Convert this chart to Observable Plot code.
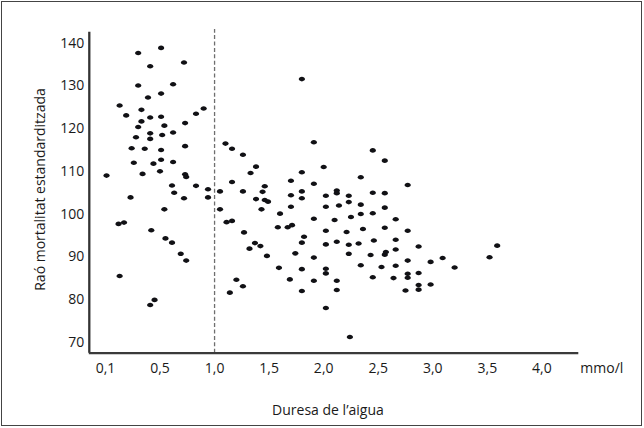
<!DOCTYPE html>
<html>
<head>
<meta charset="utf-8">
<script src="https://cdn.jsdelivr.net/npm/d3@7"></script>
<script src="https://cdn.jsdelivr.net/npm/@observablehq/plot@0.6"></script>
<style>
html, body { margin: 0; padding: 0; background: #fff; }
#wrap { position: relative; width: 644px; height: 428px; overflow: hidden; background: #fff; }
#wrap svg { position: absolute; left: 0; top: 0; }
#border { position: absolute; left: 1px; top: 1px; width: 639px; height: 423px; border: 1.5px solid #444; pointer-events: none; }
</style>
</head>
<body>
<div id="wrap"><div id="border"></div></div>
<script>
// Water hardness (mmol/l) per town
const hardness = [
  0.51,0.30,0.72,0.41,0.30,0.62,0.51,0.39,0.13,0.33,0.90,0.83,0.19,0.41,0.51,0.33,0.54,0.73,0.30,0.41,
  0.62,0.28,0.41,0.52,0.24,0.36,0.51,0.73,0.26,0.44,0.51,0.62,0.01,0.34,0.50,0.73,0.74,0.61,0.63,0.83,
  0.94,0.94,0.23,0.72,0.54,0.12,0.17,0.42,0.55,0.61,0.69,0.74,0.13,0.45,0.41,
  1.05,1.05,1.11,1.14,1.80,1.10,1.16,1.26,1.91,1.38,1.33,2.00,1.80,1.16,1.91,1.70,1.26,1.46,1.44,1.38,
  1.46,1.49,1.70,1.80,1.80,2.02,2.12,2.12,2.23,1.43,1.70,2.02,2.14,2.23,1.60,1.16,1.27,1.58,1.67,1.71,
  1.91,2.10,2.25,2.02,2.21,1.82,1.80,1.37,1.32,1.42,2.02,2.12,2.23,1.48,1.74,1.91,2.23,1.59,1.80,2.02,
  2.02,1.20,1.26,1.69,1.91,2.12,1.80,2.12,2.02,2.24,2.45,2.56,2.34,2.77,2.45,2.56,2.34,2.56,2.34,2.45,
  2.66,2.36,2.56,2.77,2.32,2.46,2.66,2.87,2.43,2.56,2.57,2.66,2.77,2.98,3.09,2.34,2.53,2.66,3.20,2.45,
  2.64,2.77,2.77,2.87,2.75,2.87,2.87,2.98,3.52,3.59
];
// Standardised mortality ratio per town
const smr = [
  138.9,137.7,135.5,134.6,130.1,130.4,128.2,127.3,125.4,124.4,124.7,123.5,123.1,122.6,122.8,121.7,120.7,121.3,120.4,118.9,
  119.1,118.0,117.6,118.5,115.4,115.3,115.0,115.9,112.0,111.8,112.7,112.2,109.0,109.4,110.0,109.3,108.7,106.7,105.0,106.6,
  105.8,103.9,103.9,103.7,101.1,97.7,98.0,96.2,94.3,93.3,90.7,89.1,85.5,79.9,78.7,
  105.3,101.1,98.1,81.6,131.6,116.5,115.3,113.9,116.8,111.1,109.6,111.0,109.8,107.5,107.1,107.8,105.3,106.5,105.2,103.5,
  103.3,102.9,104.4,105.3,103.7,104.3,105.5,104.9,104.3,101.1,101.7,101.7,102.0,102.8,100.1,98.4,95.7,96.9,96.9,97.4,
  98.9,98.6,99.3,96.1,95.8,94.7,93.3,93.2,91.9,92.5,92.9,93.5,92.8,90.2,90.8,89.8,90.7,87.4,87.1,87.2,
  86.1,84.6,83.1,84.7,84.4,84.4,82.0,82.2,78.0,71.2,114.9,112.5,108.6,106.8,105.0,104.9,102.2,101.5,100.0,100.2,
  98.8,96.5,96.8,96.1,93.1,93.8,94.0,92.4,90.4,90.5,91.1,91.7,89.1,88.8,89.7,88.0,87.6,87.9,87.5,85.2,
  85.0,86.0,85.1,86.2,82.1,83.4,82.3,83.5,89.9,92.6
];

const xTicks = [0, 0.5, 1, 1.5, 2, 2.5, 3, 3.5, 4];
const xTickLabels = ["0,1", "0,5", "1,0", "1,5", "2,0", "2,5", "3,0", "3,5", "4,0"];
const yTicks = [70, 80, 90, 100, 110, 120, 130, 140];
const xDomain = [-0.148, 4.338];
const yDomain = [67.42, 142.58];
const threshold = [1.0];
const thresholdTop = 143.2;
const xUnit = "mmo/l";
const xTitle = "Duresa de l\u2019aigua";
const yTitle = "Rao\u0301 mortalitat estandarditzada".normalize("NFC");

const data = hardness.map((h, i) => ({hardness: h, smr: smr[i]}));
const labelOf = new Map(xTicks.map((t, i) => [t, xTickLabels[i]]));

const ellipse = {
  draw(ctx, size) {
    const r = Math.sqrt(size / Math.PI);
    const rx = r * 1.22, ry = r * 0.9, k = 0.5523;
    ctx.moveTo(rx, 0);
    ctx.bezierCurveTo(rx, ry * k, rx * k, ry, 0, ry);
    ctx.bezierCurveTo(-rx * k, ry, -rx, ry * k, -rx, 0);
    ctx.bezierCurveTo(-rx, -ry * k, -rx * k, -ry, 0, -ry);
    ctx.bezierCurveTo(rx * k, -ry, rx, -ry * k, rx, 0);
    ctx.closePath();
  }
};

const font = "'Open Sans', 'Noto Sans', sans-serif";
const ink = "#1a1a1a";

const chart = Plot.plot({
  width: 644,
  height: 428,
  marginLeft: 88.8,
  marginRight: 65.7,
  marginTop: 31.7,
  marginBottom: 75.3,
  style: {fontFamily: font, fontSize: "14px", color: ink, background: "transparent"},
  x: {domain: xDomain, axis: null},
  y: {domain: yDomain, axis: null},
  marks: [
    Plot.ruleX(threshold, {y1: yDomain[0], y2: thresholdTop, stroke: "#6e6e6e", strokeWidth: 1.3, strokeDasharray: "4,2.4"}),
    Plot.dot(data, {x: "hardness", y: "smr", r: 2.55, symbol: ellipse, fill: "#111115", stroke: "none"}),
    Plot.ruleX([xDomain[0]], {stroke: "#333", strokeWidth: 2.3}),
    Plot.ruleY([yDomain[0]], {stroke: "#3a3a3a", strokeWidth: 2.2}),
    Plot.axisY(yTicks, {tickSize: 0, tickPadding: 5, fontSize: 14, fill: ink, label: null}),
    Plot.axisX(xTicks, {tickSize: 0, tickPadding: 10, fontSize: 14, fill: ink, label: null, tickFormat: d => labelOf.get(d)}),
    Plot.text([xUnit], {frameAnchor: "bottom-right", text: d => d, textAnchor: "start", lineAnchor: "top", dx: 1.5, dy: 10.3, fontSize: 14, fill: ink}),
    Plot.text([xTitle], {frameAnchor: "bottom", text: d => d, textAnchor: "middle", lineAnchor: "middle", dx: -6.1, dy: 57.1, fontSize: 14, fill: ink}),
    Plot.text([yTitle], {frameAnchor: "left", text: d => d, textAnchor: "middle", lineAnchor: "middle", rotate: -90, dx: -48.3, dy: -3.2, fontSize: 14, fill: ink})
  ]
});

const wrap = document.getElementById("wrap");
wrap.insertBefore(chart, wrap.firstChild);
</script>
</body>
</html>
